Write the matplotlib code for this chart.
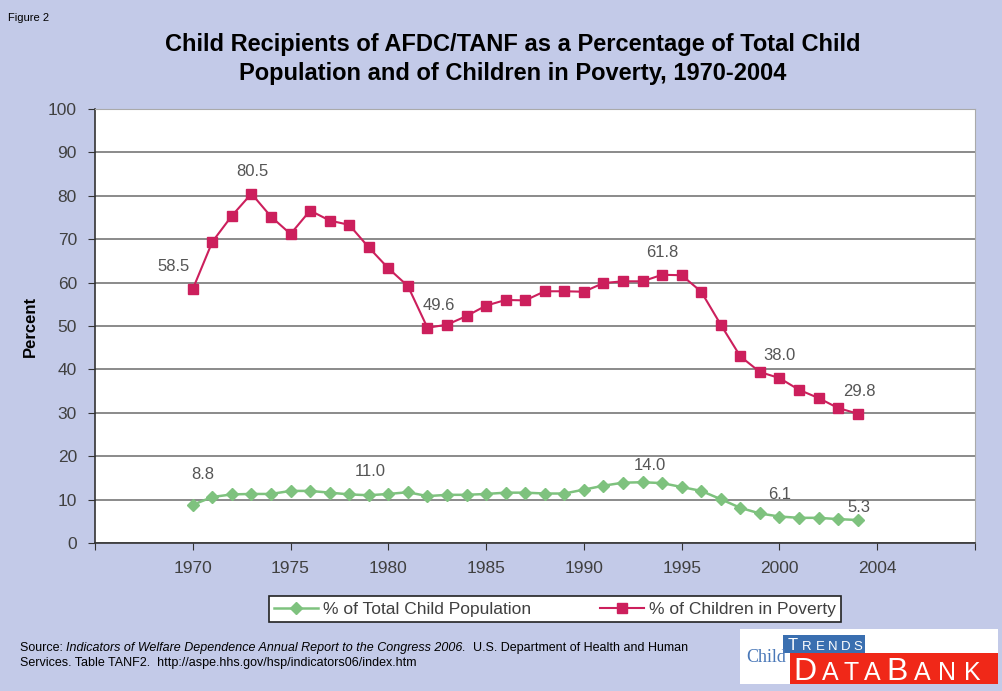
import matplotlib.pyplot as plt
from matplotlib.patches import Rectangle

plt.rcParams['font.family'] = ['Liberation Sans', 'DejaVu Sans']

# data
years = list(range(1970, 2005))
total_child = [8.8, 10.6, 11.2, 11.3, 11.3, 12.0, 12.0, 11.6, 11.2, 11.0,
               11.3, 11.7, 10.8, 11.1, 11.1, 11.3, 11.6, 11.6, 11.4, 11.4,
               12.3, 13.2, 13.9, 14.0, 13.8, 12.9, 12.0, 10.1, 8.1, 6.8,
               6.1, 5.8, 5.8, 5.5, 5.3]
poverty = [58.5, 69.4, 75.4, 80.5, 75.2, 71.2, 76.6, 74.3, 73.3, 68.1,
           63.3, 59.2, 49.6, 50.3, 52.3, 54.7, 56.0, 55.9, 58.0, 58.0,
           57.9, 59.9, 60.3, 60.3, 61.8, 61.7, 57.9, 50.3, 43.0, 39.4,
           38.0, 35.3, 33.4, 31.1, 29.8]

tick_pos = [1965, 1970, 1975, 1980, 1985, 1990, 1995, 2000, 2005, 2010]
tick_labels = ['', '1970', '1975', '1980', '1985', '1990', '1995', '2000', '2004', '']

# labelled points (year -> offset in points)
poverty_labels = {1970: (-14, 16), 1973: (1, 16), 1982: (8, 16), 1994: (0, 16),
                  2000: (0, 16), 2004: (1, 16)}
child_labels = {1970: (7, 22), 1979: (1, 17), 1993: (5, 12), 2000: (0, 16), 2004: (1, 9)}

bg = '#C3CAE8'
red = '#CC1F5C'
green = '#7EC27E'
txt = '#404040'

fig = plt.figure(figsize=(10.03, 6.91), dpi=100, facecolor=bg)
ax = fig.add_axes([95 / 1003, 1 - 543 / 691, 880 / 1003, 434 / 691])
ax.set_facecolor('white')

ax.plot(years, total_child, color=green, marker='D', markersize=6.5, lw=1.8,
        label='% of Total Child Population', zorder=3)
ax.plot(years, poverty, color=red, marker='s', markersize=7, lw=1.5,
        label='% of Children in Poverty', zorder=3)

for yr, off in poverty_labels.items():
    v = poverty[years.index(yr)]
    ax.annotate(f'{v:.1f}', (yr, v), xytext=off, textcoords='offset points',
                ha='center', va='center', fontsize=12, color='#555555')
for yr, off in child_labels.items():
    v = total_child[years.index(yr)]
    ax.annotate(f'{v:.1f}', (yr, v), xytext=off, textcoords='offset points',
                ha='center', va='center', fontsize=12, color='#555555')

ax.set_xlim(1965, 2010)
ax.set_ylim(0, 100)
ax.set_yticks(range(0, 101, 10))
ax.set_xticks(tick_pos)
ax.set_xticklabels(tick_labels)
ax.tick_params(axis='both', direction='out', length=5, labelsize=12.5,
               labelcolor=txt, color='#333333', pad=8)
ax.yaxis.grid(True, color='#777777', lw=1.2)
ax.set_axisbelow(True)
for s in ['top', 'right']:
    ax.spines[s].set_color('#AAAAAA')
for s in ['left', 'bottom']:
    ax.spines[s].set_color('#333333')
    ax.spines[s].set_linewidth(1.2)

ax.set_ylabel('Percent', fontsize=12, fontweight='bold', color='black', labelpad=7)

fig.text(0.511, 1 - 59 / 691,
         'Child Recipients of AFDC/TANF as a Percentage of Total Child\n'
         'Population and of Children in Poverty, 1970-2004',
         ha='center', va='center', fontsize=17, fontweight='bold',
         linespacing=1.35)
fig.text(8 / 1003, 1 - 18 / 691, 'Figure 2', fontsize=8, va='center')

leg = fig.legend(loc='center', bbox_to_anchor=(555 / 1003, 1 - 609 / 691),
                 ncol=2, fontsize=12.5, frameon=True, fancybox=False,
                 framealpha=1, edgecolor='#222222', borderpad=0.3,
                 columnspacing=4, handlelength=2.5, handletextpad=0.3)
leg.get_frame().set_linewidth(1.2)
for t in leg.get_texts():
    t.set_color(txt)

# source note
fs = 9
t1 = fig.text(20 / 1003, 1 - 648 / 691, 'Source: ', fontsize=fs, va='center')
t2 = ax.annotate('Indicators of Welfare Dependence Annual Report to the Congress 2006.',
                 xy=(1, 0.5), xycoords=t1, va='center', ha='left',
                 fontsize=fs, style='italic', annotation_clip=False)
ax.annotate('  U.S. Department of Health and Human', xy=(1, 0.5), xycoords=t2,
            va='center', ha='left', fontsize=fs, annotation_clip=False)
fig.text(20 / 1003, 1 - 663 / 691,
         'Services. Table TANF2.  http://aspe.hhs.gov/hsp/indicators06/index.htm',
         fontsize=fs, va='center')

# logo
def px_rect(x0, y0, x1, y1, color):
    fig.add_artist(Rectangle((x0 / 1003, 1 - y1 / 691), (x1 - x0) / 1003,
                             (y1 - y0) / 691, transform=fig.transFigure,
                             facecolor=color, edgecolor='none', zorder=1))

px_rect(740, 629, 998, 684, 'white')
px_rect(783, 635, 865, 653, '#3A6FB0')
px_rect(790, 653, 998, 684, '#F02818')
fig.text(766 / 1003, 1 - 657 / 691, 'Child', fontsize=13, color='#4A78B8',
         ha='center', va='center', family=['Liberation Serif'], zorder=2)

# logo lettering: (letter, centre x in px, font size)
trends = [('T', 793, 12), ('R', 807, 9.5), ('E', 820, 9.5), ('N', 833, 9.5),
          ('D', 846, 9.5), ('S', 858, 9.5)]
databank = [('D', 805, 23), ('A', 830, 18), ('T', 851, 18), ('A', 872, 18),
            ('B', 897, 23), ('A', 922, 18), ('N', 947, 18), ('K', 972, 18)]
for ch, x, size in trends:
    fig.text(x / 1003, 1 - 650 / 691, ch, fontsize=size, color='white',
             ha='center', va='baseline', zorder=2)
for ch, x, size in databank:
    fig.text(x / 1003, 1 - 680 / 691, ch, fontsize=size, color='white',
             ha='center', va='baseline', zorder=2)

fig.savefig('out.png', dpi=100, facecolor=bg)
